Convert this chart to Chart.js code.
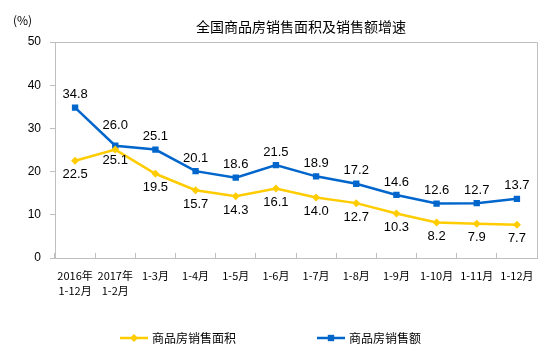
<!DOCTYPE html>
<html>
<head>
<meta charset="utf-8">
<script src="https://cdn.jsdelivr.net/npm/chart.js@4.4.0/dist/chart.umd.min.js"></script>
<style>
  html, body { margin: 0; padding: 0; background: #fff; }
</style>
</head>
<body>
<canvas id="chart" width="554" height="358"></canvas>
<script>
const categories = [
  ["2016年", "1-12月"], ["2017年", "1-2月"], "1-3月", "1-4月", "1-5月", "1-6月",
  "1-7月", "1-8月", "1-9月", "1-10月", "1-11月", "1-12月"
];
const areaGrowth = [22.5, 25.1, 19.5, 15.7, 14.3, 16.1, 14.0, 12.7, 10.3, 8.2, 7.9, 7.7];
const salesGrowth = [34.8, 26.0, 25.1, 20.1, 18.6, 21.5, 18.9, 17.2, 14.6, 12.6, 12.7, 13.7];
const seriesNames = ["商品房销售面积", "商品房销售额"];
const yMin = 0, yMax = 50, yStep = 10;

const title = "全国商品房销售面积及销售额增速";
const unit = "(%)";
const YELLOW = "#FFCC00";
const BLUE = "#0066CC";
const AXIS = "#BFBFBF";
const NUM_FONT = "'Liberation Sans', Arial, sans-serif";
const CJK_FONT = "'Noto Sans CJK SC', sans-serif";

// value labels, legend, title, top/right frame
const decor = {
  id: "decor",
  afterDatasetsDraw(chart) {
    const { ctx, chartArea: a } = chart;
    ctx.save();

    ctx.strokeStyle = AXIS;
    ctx.lineWidth = 1;
    ctx.beginPath();
    ctx.moveTo(a.left, Math.round(a.top) + 0.5);
    ctx.lineTo(Math.round(a.right) + 0.5, Math.round(a.top) + 0.5);
    ctx.lineTo(Math.round(a.right) + 0.5, a.bottom);
    ctx.stroke();

    ctx.fillStyle = "#000";
    ctx.font = "13px " + NUM_FONT;
    ctx.textAlign = "center";
    ctx.textBaseline = "middle";
    chart.data.datasets.forEach((ds, i) => {
      chart.getDatasetMeta(i).data.forEach((pt, j) => {
        let dy = ds.labelBelow ? 14 : -13;
        if (!ds.labelBelow && j === 1) dy = -20;
        if (ds.labelBelow && j === 1) dy = 11;
        ctx.fillText(ds.data[j].toFixed(1), pt.x, pt.y + dy);
      });
    });

    ctx.font = "14px " + CJK_FONT;
    ctx.fillText(title, 301, 27);
    ctx.font = "12px " + CJK_FONT;
    ctx.textAlign = "left";
    ctx.fillText(unit, 13, 20);

    // legend
    const legendX = [120, 317];
    chart.data.datasets.forEach((ds, i) => {
      const x = legendX[i], y = 338;
      ctx.strokeStyle = ds.borderColor;
      ctx.lineWidth = ds.borderWidth;
      ctx.beginPath();
      ctx.moveTo(x, y);
      ctx.lineTo(x + 28, y);
      ctx.stroke();
      ctx.fillStyle = ds.borderColor;
      Chart.helpers.drawPoint(ctx, {
        pointStyle: ds.pointStyle, radius: ds.pointRadius, borderWidth: 0, rotation: 0
      }, x + 14, y);
      ctx.fillStyle = "#000";
      ctx.font = "12px " + CJK_FONT;
      ctx.textAlign = "left";
      ctx.fillText(ds.label, x + 32, y);
    });
    ctx.restore();
  }
};

new Chart(document.getElementById("chart"), {
  type: "line",
  data: {
    labels: categories,
    datasets: [
      {
        label: seriesNames[0],
        data: areaGrowth,
        borderColor: YELLOW,
        backgroundColor: YELLOW,
        borderWidth: 2.5,
        pointStyle: "rectRot",
        pointRadius: 4,
        pointBorderWidth: 0,
        tension: 0,
        labelBelow: true
      },
      {
        label: seriesNames[1],
        data: salesGrowth,
        borderColor: BLUE,
        backgroundColor: BLUE,
        borderWidth: 2.5,
        pointStyle: "rect",
        pointRadius: 4.5,
        pointBorderWidth: 0,
        tension: 0,
        labelBelow: false
      }
    ]
  },
  options: {
    responsive: false,
    animation: false,
    layout: { padding: { top: 42, right: 17, bottom: 50, left: 0 } },
    plugins: {
      legend: { display: false },
      title: { display: false },
      tooltip: { enabled: false }
    },
    scales: {
      x: {
        offset: true,
        grid: {
          offset: true,
          drawOnChartArea: false,
          tickLength: -5,
          color: AXIS
        },
        border: { color: AXIS },
        ticks: {
          color: "#000",
          padding: 15,
          maxRotation: 0,
          autoSkip: false,
          font: { family: CJK_FONT, size: 11, lineHeight: 15 / 11 }
        },
        afterFit: (scale) => { scale.height = 50; }
      },
      y: {
        min: yMin,
        max: yMax,
        grid: {
          drawOnChartArea: false,
          tickLength: 5,
          color: AXIS
        },
        border: { color: AXIS },
        ticks: {
          stepSize: yStep,
          color: "#000",
          padding: 9,
          font: { family: NUM_FONT, size: 12 }
        },
        afterFit: (scale) => { scale.width = 55; }
      }
    }
  },
  plugins: [decor]
});
</script>
</body>
</html>
